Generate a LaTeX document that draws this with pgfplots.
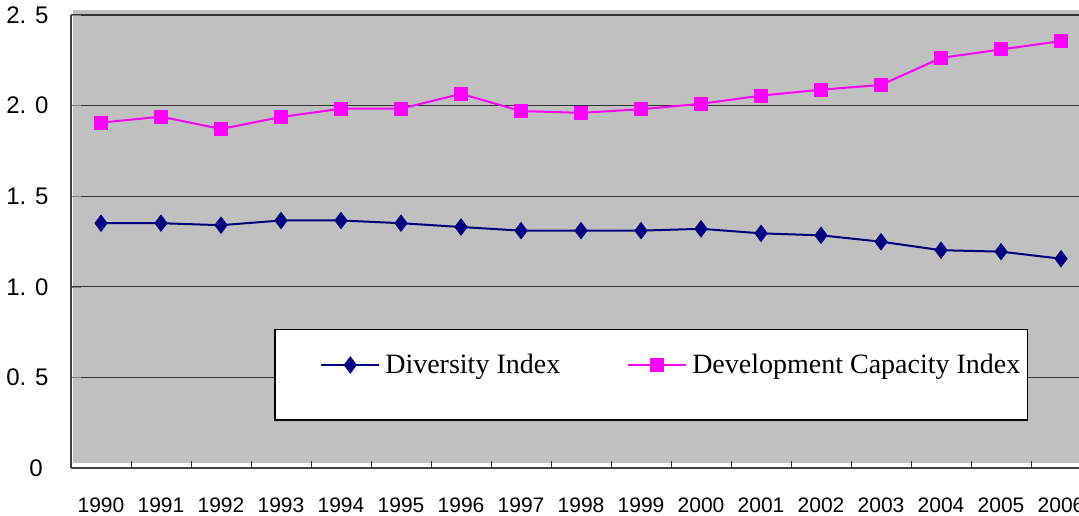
\documentclass[border=0pt]{standalone}
\usepackage{pgfplots}
\pgfplotsset{compat=1.18}
\usepackage{fontspec}
\setmainfont{Liberation Sans}
\newfontfamily\seriffont{Liberation Serif}
\definecolor{plotgray}{HTML}{C0C0C0}
\definecolor{navyblue}{HTML}{000080}
\definecolor{magentapink}{HTML}{FF00FF}
\begin{document}
\begin{tikzpicture}
\begin{axis}[
  set layers,
  scale only axis,
  width=510pt, height=226.5pt,
  xmin=-0.5, xmax=16.5,
  ymin=0, ymax=2.5,
  axis x line=bottom, axis y line=left,
  axis line style={-, black!75, line width=0.9pt},
  xtick={0,...,16},
  xticklabels={1990,1991,1992,1993,1994,1995,1996,1997,1998,1999,2000,2001,2002,2003,2004,2005,2006},
  major x tick style={draw=none},
  minor xtick={0.5,1.5,...,15.5},
  minor tick length=3.5pt,
  minor x tick style={black!80, line width=0.5pt},
  ytick={0,0.5,1,1.5,2,2.5},
  yticklabels={0\hspace*{3pt},0. 5,1. 0,1. 5,2. 0,2. 5},
  major tick length=5pt,
  tick align=inside,
  ymajorgrids,
  grid style={black!80, line width=0.6pt},
  xticklabel style={font=\fontsize{10.5}{12}\selectfont, inner sep=0pt, anchor=north, yshift=-14.5pt},
  yticklabel style={font=\fontsize{12}{14}\selectfont, inner sep=0pt, anchor=east, xshift=-11pt},
  legend style={draw=none, fill=none, at={(rel axis cs:0.244,0.2274)}, anchor=west,
    inner sep=0pt, column sep=0pt,
    font=\seriffont\fontsize{14}{16}\selectfont,
    nodes={inner xsep=2.5pt, inner ysep=2pt}},
  legend columns=2,
  legend cell align=left,
  legend image code/.code={\draw[mark repeat=2,mark phase=2,#1] plot coordinates {(0pt,0pt) (14.5pt,0pt) (29pt,0pt)};},
]
\begin{pgfonlayer}{axis background}
  \fill[plotgray] ([xshift=1pt,yshift=2.5pt]rel axis cs:0,0) rectangle ([yshift=2.5pt]rel axis cs:1,1);
\end{pgfonlayer}
\coordinate (O) at (rel axis cs:0,0);
\draw[black, line width=0.6pt, fill=white] (rel axis cs:0.2,0.106) rectangle (rel axis cs:0.938,0.305);
\addplot[navyblue, line width=1pt, mark=diamond*, mark size=3.6pt, mark options={solid, fill=navyblue}]
  coordinates {(0,1.351) (1,1.351) (2,1.340) (3,1.366) (4,1.366) (5,1.351) (6,1.330) (7,1.310) (8,1.310) (9,1.310) (10,1.320) (11,1.295) (12,1.284) (13,1.249) (14,1.202) (15,1.194) (16,1.155)};
\addlegendentry{Diversity Index\hspace*{31pt}}
\addplot[magentapink, line width=1pt, mark=square*, mark size=3pt, mark options={solid, fill=magentapink}]
  coordinates {(0,1.906) (1,1.939) (2,1.871) (3,1.937) (4,1.983) (5,1.983) (6,2.065) (7,1.970) (8,1.960) (9,1.980) (10,2.010) (11,2.055) (12,2.088) (13,2.114) (14,2.263) (15,2.310) (16,2.356)};
\addlegendentry{Development Capacity Index}
\end{axis}
\pgfresetboundingbox
\path[use as bounding box] ([shift={(-35.5pt,-23.5pt)}]O) rectangle ([shift={(504pt,234pt)}]O);
\end{tikzpicture}
\end{document}
